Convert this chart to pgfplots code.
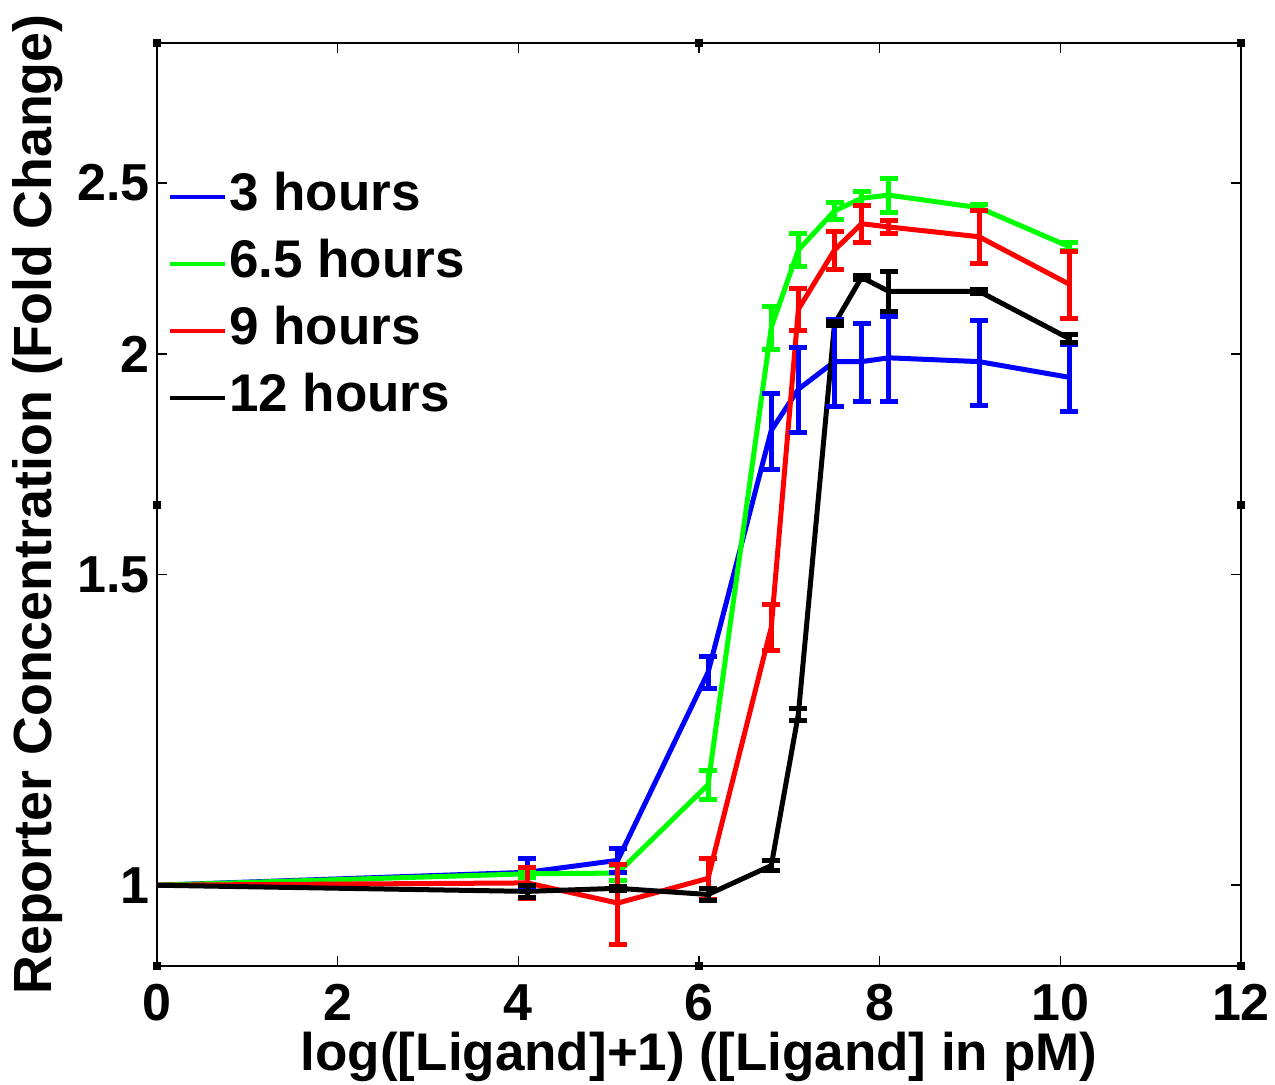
\documentclass[border=0pt]{standalone}
\usepackage{pgfplots}
\pgfplotsset{compat=1.18}
\usepackage{pgfplotstable}
\usepackage{fontspec}
\setmainfont{Liberation Sans}

% mean fold change and standard error, one table per time point
\pgfplotstableread{
x    y     e
0    1.000 0
4.1  1.017 0.018
5.1  1.033 0.016
6.1  1.320 0.027
6.8  1.810 0.090
7.1  1.910 0.106
7.5  1.980 0.113
7.8  1.980 0.100
8.1  1.990 0.110
9.1  1.980 0.110
10.1 1.940 0.085
}\threeh
\pgfplotstableread{
x    y     e
0    1.000 0
4.1  1.015 0.005
5.1  1.016 0.010
6.1  1.140 0.021
6.8  2.070 0.058
7.1  2.290 0.050
7.5  2.410 0.028
7.8  2.450 0.022
8.1  2.460 0.055
9.1  2.420 0.010
10.1 2.300 0.012
}\sixh
\pgfplotstableread{
x    y     e
0    1.000 0
4.1  1.003 0.020
5.1  0.977 0.051
6.1  1.009 0.027
6.8  1.400 0.042
7.1  2.120 0.058
7.5  2.290 0.056
7.8  2.370 0.058
8.1  2.360 0.020
9.1  2.330 0.080
10.1 2.190 0.095
}\nineh
\pgfplotstableread{
x    y     e
0    1.000 0
4.1  0.992 0.008
5.1  0.996 0.003
6.1  0.988 0.008
6.8  1.026 0.007
7.1  1.250 0.010
7.5  2.080 0.005
7.8  2.210 0.005
8.1  2.170 0.056
9.1  2.170 0.005
10.1 2.040 0.010
}\twelveh

\definecolor{mblue}{RGB}{0,0,255}
\definecolor{mgreen}{RGB}{0,255,0}
\definecolor{mred}{RGB}{255,0,0}

\pgfplotsset{
  curve/.style={draw=#1, line width=2.5pt, mark=none},
  errs/.style={forget plot, draw=none, mark=none,
    skip coords between index={0}{1},
    error bars/.cd, y dir=both, y explicit,
    error bar style={draw=#1, line width=2.5pt},
    error mark options={rotate=90, mark size=4.5pt, draw=#1, line width=2.5pt}},
}

\begin{document}
\begin{tikzpicture}[font=\fontsize{26.5}{31}\selectfont\bfseries]
\useasboundingbox (-78.5pt,-59pt) rectangle (559pt,483pt);
\begin{axis}[
  at={(0,0)}, anchor=south west,
  scale only axis, width=542pt, height=461.5pt,
  xmin=0, xmax=12, ymin=0.9, ymax=3,
  ymode=log,
  xtick={0,2,...,12},
  ytick={1,1.5,2,2.5}, yticklabels={1,1.5,2,2.5},
  minor ytick={}, minor xtick={},
  tick align=inside, major tick length=5pt,
  axis line style={line width=0.75pt},
  tick style={line width=0.75pt, black},
  /pgf/number format/assume math mode=true,
  ticklabel style={font=\fontsize{26}{31}\selectfont\bfseries},
  xticklabel style={inner sep=0pt, yshift=-9pt},
  yticklabel style={inner sep=0pt, xshift=-3.5pt},
  xlabel={log([Ligand]+1) ([Ligand] in pM)},
  ylabel={Reporter Concentration (Fold Change)},
  xlabel style={at={(axis description cs:0.5,-0.098)}, anchor=center, inner sep=0pt},
  ylabel style={at={(axis description cs:-0.110,0.5)}, anchor=center, inner sep=0pt,
    font=\fontsize{26.9}{31}\selectfont\bfseries},
  legend style={at={(rel axis cs:0.010,0.862)}, anchor=north west,
    draw=none, fill=none, inner sep=0pt, row sep=7pt,
    nodes={inner sep=1pt, text height=19pt, text depth=5.5pt}},
  legend cell align=left,
  legend image code/.code={\draw[#1, line width=2pt] (0pt,0pt) -- (27.5pt,0pt);},
]
\addplot[curve=mblue]  table[x=x,y=y] {\threeh};
\addlegendentry{3 hours}
\addplot[curve=mgreen] table[x=x,y=y] {\sixh};
\addlegendentry{6.5 hours}
\addplot[curve=mred]   table[x=x,y=y] {\nineh};
\addlegendentry{9 hours}
\addplot[curve=black]  table[x=x,y=y] {\twelveh};
\addlegendentry{12 hours}

\addplot[errs=mblue]  table[x=x,y=y,y error=e] {\threeh};
\addplot[errs=mgreen] table[x=x,y=y,y error=e] {\sixh};
\addplot[errs=mred]   table[x=x,y=y,y error=e] {\nineh};
\addplot[errs=black]  table[x=x,y=y,y error=e] {\twelveh};
\end{axis}
% small handles on the frame corners and edge midpoints
\foreach \hx in {0,271,542} \foreach \hy in {0,461.5} {
  \fill[black] (\hx pt,\hy pt) ++(-2pt,-2pt) rectangle ++(4pt,4pt);
}
\foreach \hx in {0,542} {
  \fill[black] (\hx pt,230.75pt) ++(-2pt,-2pt) rectangle ++(4pt,4pt);
}
\end{tikzpicture}
\end{document}
